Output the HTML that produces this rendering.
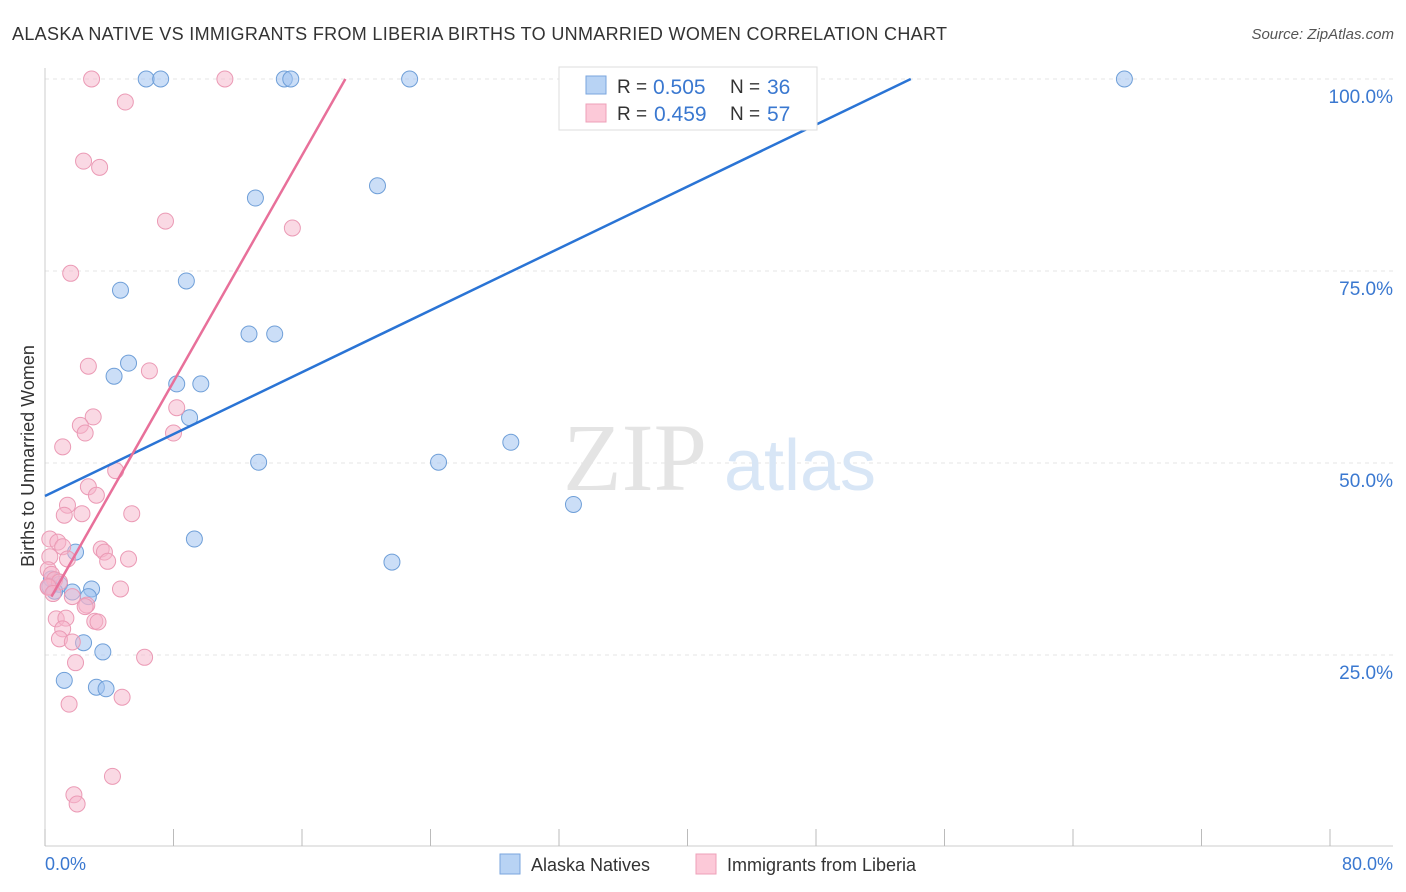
<!DOCTYPE html>
<html><head><meta charset="utf-8"><style>
body{margin:0;background:#fff;font-family:"Liberation Sans",sans-serif;}
svg{display:block}
</style></head><body>
<svg width="1406" height="892">
<text x="12" y="40" font-size="18" fill="#333" textLength="935">ALASKA NATIVE VS IMMIGRANTS FROM LIBERIA BIRTHS TO UNMARRIED WOMEN CORRELATION CHART</text>
<text x="1394" y="39" font-size="15" fill="#555" text-anchor="end" font-style="italic">Source: ZipAtlas.com</text>
<g id="grid"></g>
<text x="635" y="490" font-size="96" fill="#e4e4e4" font-family="Liberation Serif" text-anchor="middle">ZIP</text>
<text x="800" y="490" font-size="72" fill="#d8e6f6" text-anchor="middle">atlas</text>
<g id="pts"></g>
<g id="lines"></g>
<text x="34" y="456" font-size="18" fill="#333" text-anchor="middle" transform="rotate(-90 34 456)">Births to Unmarried Women</text>
<text x="45" y="870" font-size="18" fill="#3a78d0">0.0%</text>
<text x="1393" y="870" font-size="18" fill="#3a78d0" text-anchor="end">80.0%</text>
<g>
<rect x="559" y="67" width="258" height="63" fill="#fff" stroke="#ddd"/>
<rect x="586" y="76" width="20" height="18" fill="#b8d3f4" stroke="#7aa6de"/>
<rect x="586" y="104" width="20" height="18" fill="#fcc9d8" stroke="#eea0b8"/>
<text x="617" y="93" font-size="19" fill="#333">R =</text>
<text x="653" y="94" font-size="21" fill="#3a78d0">0.505</text>
<text x="730" y="93" font-size="19" fill="#333">N =</text>
<text x="767" y="94" font-size="21" fill="#3a78d0">36</text>
<text x="617" y="120" font-size="19" fill="#333">R =</text>
<text x="654" y="121" font-size="21" fill="#3a78d0">0.459</text>
<text x="730" y="120" font-size="19" fill="#333">N =</text>
<text x="767" y="121" font-size="21" fill="#3a78d0">57</text>
</g>
<g>
<rect x="500" y="854" width="20" height="20" fill="#b8d3f4" stroke="#7aa6de"/>
<text x="531" y="871" font-size="18" fill="#333">Alaska Natives</text>
<rect x="696" y="854" width="20" height="20" fill="#fcc9d8" stroke="#eea0b8"/>
<text x="727" y="871" font-size="18" fill="#333">Immigrants from Liberia</text>
</g>
</svg>
<script>
const yTicks=[25,50,75,100];
const xTicks=[0,8,16,24,32,40,48,56,64,72,80];
const blueX=[6.3,7.2,14.9,15.3,22.7,67.2,20.7,13.1,8.8,4.7,12.7,14.3,5.2,4.3,8.2,9.7,9.0,13.3,24.5,29.0,32.9,9.3,21.6,1.9,0.4,0.9,1.7,2.9,2.7,2.4,3.6,1.2,3.2,3.8,0.3,0.6];
const blueY=[100,100,100,100,100,100,86.1,84.5,73.7,72.5,66.8,66.8,63.0,61.3,60.3,60.3,55.9,50.1,50.1,52.7,44.6,40.1,37.1,38.4,34.9,34.2,33.2,33.6,32.6,26.6,25.4,21.7,20.8,20.6,33.9,33.3];
const pinkX=[2.9,11.2,5.0,2.4,3.4,7.5,15.4,1.6,2.7,6.5,8.2,3.0,2.2,2.5,8.0,1.1,4.4,2.7,3.2,1.4,1.2,2.3,5.4,0.3,0.8,1.1,1.4,3.5,3.7,3.9,5.2,0.3,0.2,0.4,0.6,0.2,0.9,4.7,1.7,2.6,2.5,3.1,3.3,0.7,1.3,1.1,0.9,1.7,1.9,6.2,4.8,1.5,4.2,1.8,2.0,0.2,0.5];
const pinkY=[100,100,97.0,89.3,88.5,81.5,80.6,74.7,62.6,62.0,57.2,56.0,54.9,53.9,53.9,52.1,49.0,46.9,45.8,44.5,43.2,43.4,43.4,40.1,39.7,39.1,37.5,38.8,38.4,37.2,37.5,37.8,36.1,35.5,34.8,33.8,34.5,33.6,32.6,31.5,31.3,29.4,29.3,29.7,29.8,28.4,27.1,26.7,24.0,24.7,19.5,18.6,9.2,6.8,5.6,33.9,33.0];
const blueLine=[[0,45.7],[53.9,100]];
const pinkLine=[[0.4,32.6],[18.7,100]];
const X=v=>45+v/80*1285, Y=v=>847-v/100*768;
const NS='http://www.w3.org/2000/svg';
function mk(t,a,p){const e=document.createElementNS(NS,t);for(const k in a)e.setAttribute(k,a[k]);p.appendChild(e);return e;}
const g=document.getElementById('grid');
yTicks.forEach(t=>{const l=mk('line',{x1:45,x2:1393,y1:Y(t),y2:Y(t),stroke:'#e6e6e6','stroke-dasharray':'4,4'},g);


const tx=mk('text',{x:1393,y:Y(t)+24,'font-size':19,fill:'#3a78d0','text-anchor':'end'},g);tx.textContent=t.toFixed(1)+'%';

});
mk('line',{x1:45,x2:1393,y1:846,y2:846,stroke:'#ccc'},g);
mk('line',{x1:45,x2:45,y1:68,y2:846,stroke:'#ccc'},g);
xTicks.forEach(t=>{const l=mk('line',{x1:X(t),x2:X(t),y1:829,y2:846,stroke:'#bbb'},g);

});
const p=document.getElementById('pts');
blueX.forEach((v,i)=>{const c=mk('circle',{cx:X(v),cy:Y(blueY[i]),r:8,fill:'rgba(160,195,240,0.55)',stroke:'#6f9fd8','stroke-width':1},p);

});
pinkX.forEach((v,i)=>{const c=mk('circle',{cx:X(v),cy:Y(pinkY[i]),r:8,fill:'rgba(246,180,202,0.5)',stroke:'#eb9ab5','stroke-width':1},p);

});
const L=document.getElementById('lines');
const b=mk('line',{x1:X(blueLine[0][0]),y1:Y(blueLine[0][1]),x2:X(blueLine[1][0]),y2:Y(blueLine[1][1]),stroke:'#2a74d5','stroke-width':2.5},L);


const q=mk('line',{x1:X(pinkLine[0][0]),y1:Y(pinkLine[0][1]),x2:X(pinkLine[1][0]),y2:Y(pinkLine[1][1]),stroke:'#e8709a','stroke-width':2.5},L);


</script>
</body></html>
